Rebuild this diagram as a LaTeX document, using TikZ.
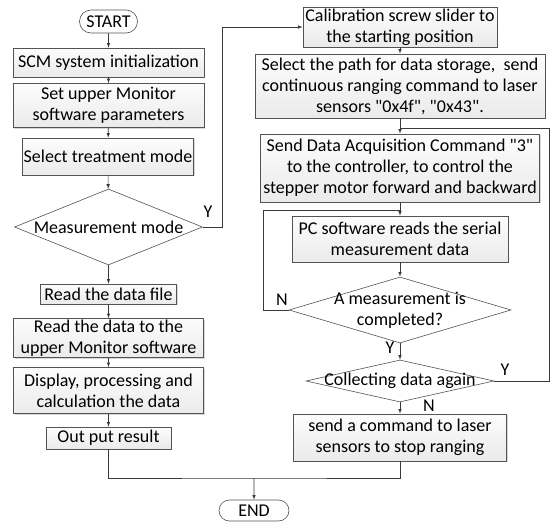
\documentclass[tikz,border=0pt]{standalone}
\usepackage{fontspec}
\setmainfont{Carlito}[Ligatures=TeXOff]
\usetikzlibrary{arrows,positioning,shapes,shadows}

\begin{document}
\begin{tikzpicture}[x=1pt,y=-1pt,
                every node/.style={font=\fontsize{18}{21}\selectfont},
                procbox/.style={rectangle,draw=gray!65!black,line width=0.6pt,top color=gray!2,bottom color=gray!16,
                  drop shadow={shadow xshift=1.2pt,shadow yshift=-1.2pt,opacity=0.3},align=center,inner sep=0pt},
                decision/.style={diamond,draw=gray!65!black,line width=0.6pt,fill=white,inner sep=0pt},
                terminal/.style={rounded rectangle,draw=gray!65!black,line width=0.6pt,fill=white,inner sep=0pt},
                flow/.style={draw=gray!45!black,line width=0.6pt},
                yn/.style={inner sep=0pt}]
                \useasboundingbox (0,0) rectangle (550,522);
                % left column
                \node[terminal,minimum width=58,minimum height=23] (start) at (108.5,21.5) {START};
                \node[procbox,minimum width=191,minimum height=29] (scm) at (108.5,62.5) {SCM system initialization};
                \node[procbox,minimum width=191,minimum height=44] (setpar) at (108.5,105.5) {Set upper Monitor\\software parameters};
                \node[procbox,minimum width=171,minimum height=37] (treat) at (108,156.5) {Select treatment mode};
                \node[decision,minimum width=188,minimum height=76,label=center:Measurement mode] (mode) at (108.5,227) {};
                \node[procbox,minimum width=136,minimum height=20] (readfile) at (108.5,294) {Read the data file};
                \node[procbox,minimum width=190,minimum height=39] (readup) at (108.5,338) {Read the data to the\\upper Monitor software};
                \node[procbox,minimum width=190,minimum height=46] (disp) at (108.5,390.5) {Display, processing and\\calculation the data};
                \node[procbox,minimum width=125,minimum height=22] (output) at (108.5,438) {Out put result};
                \node[terminal,minimum width=70,minimum height=21] (finish) at (254,510.5) {END};
                % right column
                \node[procbox,minimum width=194,minimum height=40] (calib) at (400,27) {Calibration screw slider to\\the starting position};
                \node[procbox,minimum width=290,minimum height=64] (store) at (400,86) {Select the path for data storage, \ send\\continuous ranging command to laser\\sensors "0x4f", "0x43".};
                \node[procbox,minimum width=279,minimum height=68] (acq) at (400,168) {Send Data Acquisition Command "3"\\to the controller, to control the\\stepper motor forward and backward};
                \node[procbox,minimum width=216,minimum height=46] (pcread) at (400,239) {PC software reads the serial\\measurement data};
                \node[decision,minimum width=222,minimum height=66,label={[align=center]center:A measurement is\\completed?}] (done) at (400,310) {};
                \node[decision,minimum width=188,minimum height=42,label=center:Collecting data again] (again) at (400,381) {};
                \node[procbox,minimum width=213,minimum height=47] (stop) at (400,437.5) {send a command to laser\\sensors to stop ranging};
                % bends of the loops
                \coordinate (ybend) at (222,227);
                \coordinate (njoin) at (400,210);
                \coordinate (nbend) at (263,310);
                \coordinate (yjoin) at (400,128);
                \coordinate (yright) at (549,381);
                \coordinate (merge) at (254,478);
                % connectors
                \draw[flow,-latex] (start) -- (scm);
                \draw[flow,-latex] (scm) -- (setpar);
                \draw[flow,-latex] (setpar) -- (treat);
                \draw[flow,-latex] (treat) -- (mode);
                \draw[flow,-latex] (mode) -- (readfile);
                \draw[flow,-latex] (readfile) -- (readup);
                \draw[flow,-latex] (readup) -- (disp);
                \draw[flow,-latex] (disp) -- (output);
                \draw[flow,-latex] (mode.east) -- (ybend) |- (calib.west);
                \draw[flow,-latex] (calib) -- (store);
                \draw[flow,-latex] (store) -- (acq);
                \draw[flow,-latex] (acq) -- (pcread);
                \draw[flow,-latex] (pcread) -- (done);
                \draw[flow,-latex] (done) -- (again);
                \draw[flow,-latex] (again) -- (stop);
                \draw[flow] (done.west) -- (nbend) |- (njoin);
                \draw[flow] (again.east) -- (yright) |- (yjoin);
                \draw[flow] (output.south) |- (merge) -| (stop.south);
                \draw[flow,-latex] (merge) -- (finish);
                % branch letters
                \node[yn] (ymode) at (208,212) {Y};
                \node[yn] (ndone) at (282,300) {N};
                \node[yn] (ydone) at (390,348) {Y};
                \node[yn] (nagain) at (429,406) {N};
                \node[yn] (yagain) at (505,370) {Y};
            \end{tikzpicture}
\end{document}
